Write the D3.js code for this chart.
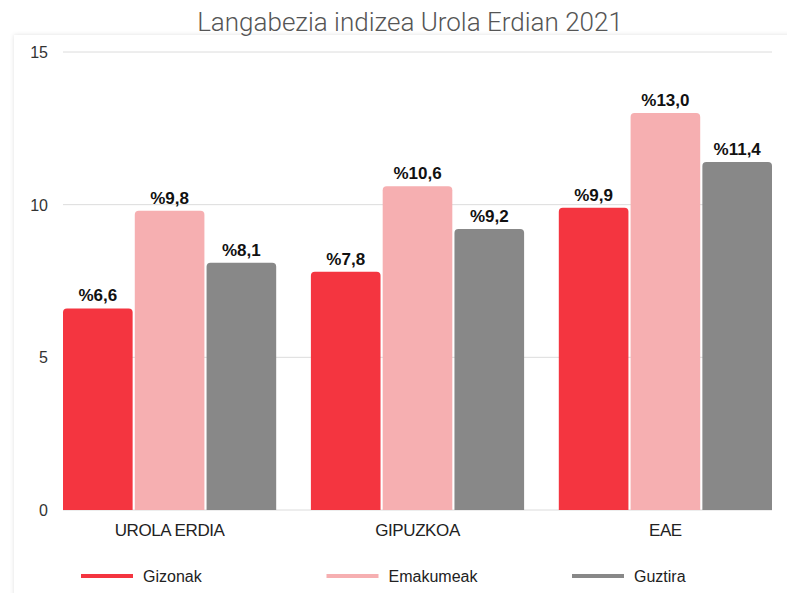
<!DOCTYPE html>
<html>
<head>
<meta charset="utf-8">
<title>Langabezia indizea</title>
<script src="https://d3js.org/d3.v7.min.js"></script>
<style>
  body { margin: 0; background: #fff; }
  text { font-family: "Liberation Sans", Arial, sans-serif; }
</style>
</head>
<body>
<svg width="787" height="593"></svg>
<script>
// data
const regions = ["UROLA ERDIA", "GIPUZKOA", "EAE"];
const series = ["Gizonak", "Emakumeak", "Guztira"];
const gizonak = [6.6, 7.8, 9.9];
const emakumeak = [9.8, 10.6, 13.0];
const guztira = [8.1, 9.2, 11.4];
const yTicks = [0, 5, 10, 15];
const colors = ["#f43540", "#f6afb1", "#888888"];

const values = [gizonak, emakumeak, guztira];
const rows = regions.map((r, i) => ({region: r, vals: series.map((s, j) => ({key: s, j: j, v: values[j][i]}))}));

const svg = d3.select("svg"),
      margin = {top: 52, right: 15, bottom: 83, left: 63},
      width = +svg.attr("width"),
      height = +svg.attr("height");

// card with soft shadow
const defs = svg.append("defs");
const f = defs.append("filter").attr("id", "sh").attr("x", "-5%").attr("y", "-5%").attr("width", "110%").attr("height", "110%");
f.append("feDropShadow").attr("dx", 0).attr("dy", 0).attr("stdDeviation", 2).attr("flood-color", "#000").attr("flood-opacity", 0.12);
svg.append("rect").attr("x", 14).attr("y", 35).attr("width", 800).attr("height", 600)
   .attr("fill", "#fff").attr("filter", "url(#sh)");

// title
svg.append("text").attr("x", 410).attr("y", 31).attr("text-anchor", "middle")
   .style("font-family", "Roboto, 'Liberation Sans', sans-serif")
   .style("font-size", "26px").style("font-weight", 300).style("fill", "#555")
   .text("Langabezia indizea Urola Erdian 2021");

const x0 = d3.scaleBand().domain(regions)
             .range([margin.left, width - margin.right])
             .paddingInner(0.14).paddingOuter(0);
const x1 = d3.scaleBand().domain(series).range([0, x0.bandwidth()]).paddingInner(0.03);
const y = d3.scaleLinear().domain([0, 15]).range([height - margin.bottom, margin.top]);

// grid
svg.append("g").selectAll("line").data(yTicks).join("line")
   .attr("x1", margin.left).attr("x2", width - margin.right)
   .attr("y1", d => y(d)).attr("y2", d => y(d))
   .attr("stroke", "#dcdcdc").attr("stroke-width", 1);

svg.append("g").selectAll("text").data(yTicks).join("text")
   .attr("x", 48).attr("y", d => y(d) + 6).attr("text-anchor", "end")
   .style("font-size", "16px").style("fill", "#333")
   .text(d => d);

// bars with rounded tops
function barPath(x, top, w, bottom, r) {
  r = Math.min(r, (bottom - top));
  return `M${x},${bottom}V${top + r}Q${x},${top} ${x + r},${top}H${x + w - r}Q${x + w},${top} ${x + w},${top + r}V${bottom}Z`;
}

const groups = svg.append("g").selectAll("g").data(rows).join("g")
   .attr("transform", d => `translate(${x0(d.region)},0)`);

groups.selectAll("path").data(d => d.vals).join("path")
   .attr("d", d => barPath(x1(d.key), y(d.v), x1.bandwidth(), y(0), 4))
   .attr("fill", d => colors[d.j]);

groups.selectAll("text").data(d => d.vals).join("text")
   .attr("x", d => x1(d.key) + x1.bandwidth() / 2)
   .attr("y", d => y(d.v) - 7)
   .attr("text-anchor", "middle")
   .style("font-size", "17px").style("font-weight", "bold").style("fill", "#111")
   .text(d => "%" + d.v.toFixed(1).replace(".", ","));

// category labels
svg.append("g").selectAll("text").data(regions).join("text")
   .attr("x", d => x0(d) + x0.bandwidth() / 2)
   .attr("y", height - margin.bottom + 26)
   .attr("text-anchor", "middle")
   .style("font-size", "17px").style("fill", "#222").style("letter-spacing", "-0.4px")
   .text(d => d);

// legend
const legend = svg.append("g").selectAll("g").data(series).join("g")
   .attr("transform", (d, i) => `translate(${81 + i * 245.5},576)`);
legend.append("line").attr("x1", 0).attr("x2", 52).attr("y1", 0).attr("y2", 0)
   .attr("stroke", (d, i) => colors[i]).attr("stroke-width", 4);
legend.append("text").attr("x", 62).attr("y", 6)
   .style("font-size", "16px").style("fill", "#222")
   .text(d => d);
</script>
</body>
</html>
